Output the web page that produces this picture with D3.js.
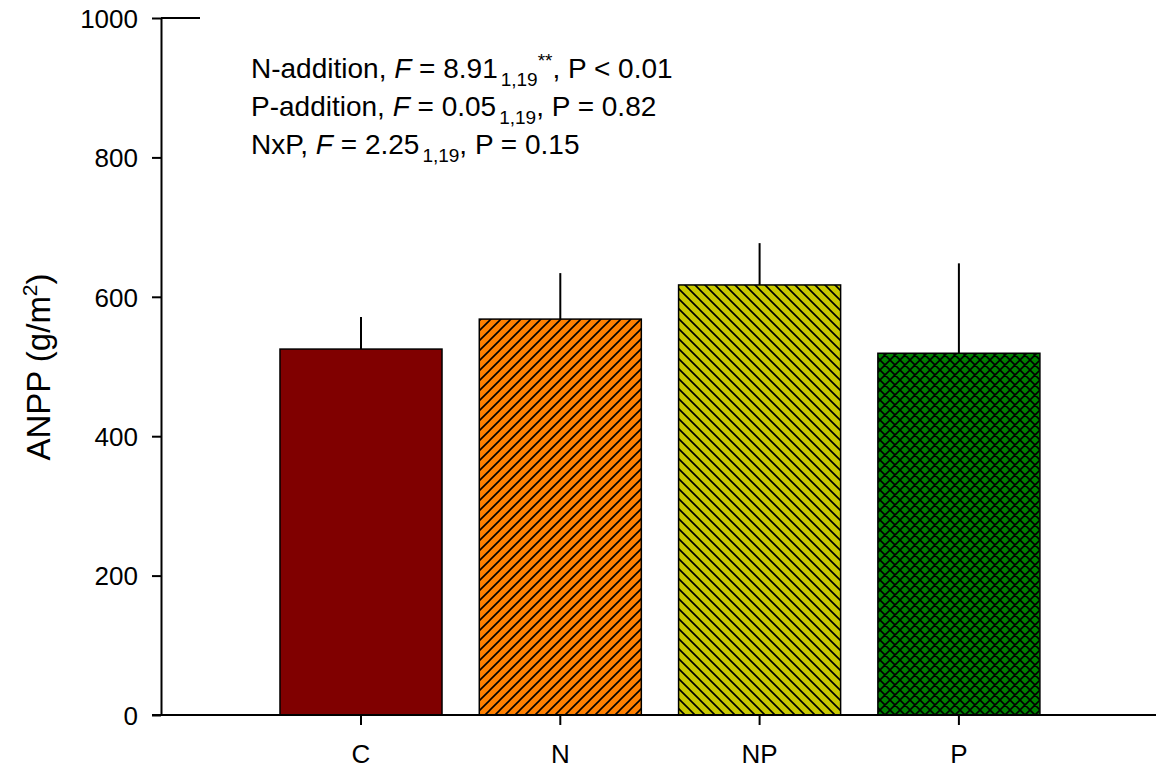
<!DOCTYPE html>
<html>
<head>
<meta charset="utf-8">
<script src="https://cdn.jsdelivr.net/npm/d3@7"></script>
<style>
  body { margin: 0; background: #fff; }
  svg { display: block; font-family: "Liberation Sans", Arial, sans-serif; }
  .axis text { font-size: 26px; fill: #000; }
  .axis line, .axis path { stroke: #000; stroke-width: 2px; }
</style>
</head>
<body>
<svg id="chart" width="1156" height="774"></svg>
<script>
// treatment means and standard errors (ANPP, g/m2)
const treatments = ['C', 'N', 'NP', 'P'];
const anpp = [525, 568, 617, 519];
const errors = [46, 66, 60, 129];
const yTicks = [0, 200, 400, 600, 800, 1000];
const fills = ['#800000', '#ff8000', '#c8c800', '#008000'];
const hatches = ['none', 'fwd', 'back', 'cross'];

const stats = [
  { label: 'N-addition, ', f: '8.91', df: '1,19', star: '**', p: ', P < 0.01' },
  { label: 'P-addition, ', f: '0.05', df: '1,19', star: '', p: ', P = 0.82' },
  { label: 'NxP, ', f: '2.25', df: '1,19', star: '', p: ', P = 0.15' },
];

const svg = d3.select('#chart');
const y = d3.scaleLinear().domain([0, 1000]).range([715, 18]);
const x = d3.scaleBand()
  .domain(treatments)
  .range([261.35, 1058.55])
  .paddingInner(0.187)
  .paddingOuter(0.0935);

// hatch patterns
const defs = svg.append('defs');
const hatchPaths = {
  fwd: 'M-2,2 L2,-2 M0,10 L10,0 M8,12 L12,8',
  back: 'M-2,8 L2,12 M0,0 L10,10 M8,-2 L12,2',
  cross: 'M-2,2 L2,-2 M0,10 L10,0 M8,12 L12,8 M-2,8 L2,12 M0,0 L10,10 M8,-2 L12,2',
};
treatments.forEach((t, i) => {
  if (hatches[i] === 'none') return;
  const p = defs.append('pattern')
    .attr('id', 'pat-' + i)
    .attr('patternUnits', 'userSpaceOnUse')
    .attr('width', 10)
    .attr('height', 10);
  p.append('rect').attr('width', 10).attr('height', 10).attr('fill', fills[i]);
  p.append('path')
    .attr('d', hatchPaths[hatches[i]])
    .attr('stroke', '#000')
    .attr('stroke-width', 1.6);
});

// bars
svg.selectAll('rect.bar')
  .data(treatments)
  .join('rect')
  .attr('class', 'bar')
  .attr('x', (d) => x(d))
  .attr('y', (d, i) => y(anpp[i]))
  .attr('width', x.bandwidth())
  .attr('height', (d, i) => y(0) - y(anpp[i]))
  .attr('fill', (d, i) => (hatches[i] === 'none' ? fills[i] : `url(#pat-${i})`))
  .attr('stroke', '#000')
  .attr('stroke-width', 1.5);

// error bars (upper only)
svg.selectAll('line.err')
  .data(treatments)
  .join('line')
  .attr('class', 'err')
  .attr('x1', (d) => x(d) + x.bandwidth() / 2)
  .attr('x2', (d) => x(d) + x.bandwidth() / 2)
  .attr('y1', (d, i) => y(anpp[i]))
  .attr('y2', (d, i) => y(anpp[i] + errors[i]))
  .attr('stroke', '#000')
  .attr('stroke-width', 2);

// y axis
const yAxis = svg.append('g')
  .attr('class', 'axis')
  .attr('transform', `translate(161,0)`)
  .call(d3.axisLeft(y).tickValues(yTicks).tickFormat(d3.format('d'))
    .tickSize(9).tickPadding(14).tickSizeOuter(0));
yAxis.selectAll('text').attr('dy', '0.36em');

// short segment at top of y axis
svg.append('line')
  .attr('x1', 161).attr('x2', 200)
  .attr('y1', y(1000)).attr('y2', y(1000))
  .attr('stroke', '#000').attr('stroke-width', 2);

// x axis
const xAxis = svg.append('g')
  .attr('class', 'axis')
  .attr('transform', `translate(0,${y(0)})`)
  .call(d3.axisBottom(x).tickSize(10).tickPadding(20).tickSizeOuter(0));
xAxis.select('.domain').remove();
xAxis.append('line')
  .attr('x1', 152).attr('x2', 1156)
  .attr('stroke', '#000').attr('stroke-width', 2);

// y axis title
svg.append('text')
  .attr('transform', 'translate(50,367) rotate(-90)')
  .attr('text-anchor', 'middle')
  .attr('font-size', 33)
  .text('ANPP (g/m')
  .append('tspan').attr('font-size', 21).attr('dy', -13).text('2')
  .select(function () { return this.parentNode; })
  .append('tspan').attr('dy', 13).text(')');

// statistics annotation
const baselines = [78, 116, 154];
stats.forEach((s, i) => {
  const t = svg.append('text')
    .attr('x', 251)
    .attr('y', baselines[i])
    .attr('font-size', 28);
  t.append('tspan').text(s.label);
  t.append('tspan').attr('font-style', 'italic').text('F');
  t.append('tspan').text(' = ' + s.f);
  t.append('tspan').attr('font-size', 19).attr('dx', 3).attr('dy', 8).text(s.df);
  if (s.star) {
    t.append('tspan').attr('font-size', 19).attr('dy', -19).text(s.star);
    t.append('tspan').attr('dy', 11).text(s.p);
  } else {
    t.append('tspan').attr('dy', -8).text(s.p);
  }
});
</script>
</body>
</html>
